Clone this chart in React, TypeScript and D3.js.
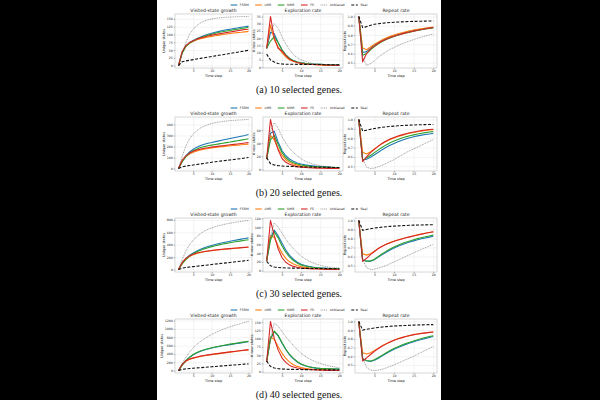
import React, { useEffect, useRef } from "react";
import * as d3 from "d3";

// methods, in drawing order
const methods = ["FSRM", "LMR", "NMR", "FS", "Unbiased", "Real"];
const geneCounts = [10, 20, 30, 40];
const captionLetters = ["a", "b", "c", "d"];
const steps = d3.range(1, 21);

const panelTitles = ["Visited-state growth", "Exploration rate", "Repeat rate"];
const yLabels = ["Unique states", "# new states", "Repeat rate"];
const xTicks = [5, 10, 15, 20];

// y ticks per row (10, 20, 30, 40 genes)
const growthTicks = [
  [0, 25, 50, 75, 100, 125, 150],
  [0, 100, 200, 300, 400],
  [0, 200, 400, 600, 800],
  [0, 200, 400, 600, 800, 1000, 1200],
];
const exploreTicks = [
  [0, 5, 10, 15, 20, 25, 30, 35],
  [0, 20, 40, 60],
  [0, 20, 40, 60, 80, 100, 120],
  [0, 25, 50, 75, 100, 125, 150],
];
const repeatTicks = [0.5, 0.6, 0.7, 0.8, 0.9, 1.0];

// unique states per step: FSRM, LMR, NMR, FS, Unbiased, Real
const growth10 = [
  [0, 42, 63, 74, 81, 87, 92, 97, 101, 104, 107, 110, 113, 115, 117, 119, 121, 123, 125, 127],
  [0, 43, 62, 72, 78, 83, 86, 89, 92, 94, 96, 98, 100, 101.5, 103, 104.5, 106, 107, 108.5, 110],
  [0, 40, 61, 72, 79, 85, 90, 94, 98, 101, 104, 107, 109, 111, 113, 115, 117, 119, 121, 123],
  [0, 45, 64, 74, 80, 85, 89, 92, 95, 98, 100, 102, 104, 106, 108, 110, 112, 114, 116, 117],
  [0, 40, 74, 100, 117, 129, 137, 143, 147, 150, 152, 153.5, 154.5, 155.5, 156, 156.5, 157, 157.5, 158, 158],
  [0, 12, 15, 17, 19, 21, 23, 25, 27, 29, 31, 33, 35, 37, 39, 41, 43, 45, 47, 49],
];
const growth20 = [
  [0, 65, 115, 150, 175, 194, 208, 220, 229, 236, 244, 251, 258, 265, 272, 279, 286, 293, 300, 308],
  [0, 70, 108, 132, 148, 160, 169, 176, 182, 187, 191, 195, 199, 203, 206, 209, 212, 215, 218, 221],
  [0, 62, 108, 140, 162, 178, 190, 199, 206, 212, 218, 224, 230, 235, 240, 246, 252, 258, 264, 270],
  [0, 75, 115, 140, 156, 168, 177, 184, 189, 194, 199, 203, 207, 211, 215, 219, 223, 227, 231, 235],
  [0, 110, 205, 270, 312, 345, 368, 385, 398, 408, 416, 422, 427, 431, 434, 437, 439, 441, 443, 445],
  [0, 15, 22, 27, 32, 37, 42, 47, 52, 57, 62, 66, 70, 74, 78, 82, 86, 90, 95, 100],
];
const growth30 = [
  [0, 100, 175, 230, 268, 300, 327, 350, 370, 388, 404, 419, 432, 444, 456, 467, 478, 489, 500, 510],
  [0, 95, 165, 210, 240, 260, 275, 287, 297, 305, 312, 318, 324, 330, 335, 340, 345, 350, 355, 360],
  [0, 95, 165, 218, 255, 285, 311, 333, 352, 369, 384, 397, 410, 421, 432, 442, 452, 462, 471, 480],
  [0, 115, 180, 220, 247, 265, 279, 290, 299, 307, 314, 320, 326, 332, 337, 342, 347, 352, 357, 362],
  [0, 160, 300, 400, 475, 533, 580, 617, 647, 670, 690, 707, 722, 735, 746, 756, 766, 775, 783, 790],
  [0, 22, 32, 40, 47, 54, 61, 68, 74, 81, 88, 94, 101, 108, 114, 121, 128, 134, 141, 148],
];
const growth40 = [
  [0, 128, 236, 315, 378, 425, 463, 492, 517, 539, 558, 576, 593, 608, 623, 637, 651, 664, 678, 691],
  [0, 140, 222, 268, 298, 321, 340, 356, 370, 383, 395, 407, 419, 431, 442, 453, 464, 475, 486, 497],
  [0, 130, 240, 320, 384, 432, 470, 500, 525, 547, 567, 585, 602, 618, 633, 647, 661, 675, 689, 702],
  [0, 150, 230, 275, 304, 327, 346, 362, 376, 388, 400, 412, 424, 436, 447, 458, 469, 480, 491, 502],
  [0, 170, 320, 440, 545, 630, 700, 760, 815, 865, 910, 950, 987, 1020, 1050, 1078, 1105, 1130, 1155, 1178],
  [0, 28, 40, 48, 56, 63, 70, 77, 84, 91, 98, 105, 112, 119, 126, 133, 140, 147, 154, 161],
];

// new states per step
const explore10 = [
  [13, 24, 23, 17, 12, 8.5, 6, 4.5, 3.5, 3, 2.6, 2.3, 2.1, 2, 1.9, 1.8, 1.7, 1.6, 1.5, 1.5],
  [13, 29, 19, 14, 10, 7, 5, 4, 3.2, 2.6, 2.2, 2, 1.8, 1.7, 1.5, 1.4, 1.3, 1.2, 1.1, 1.1],
  [13, 18, 21, 17, 12, 8.5, 6, 4.5, 3.5, 3, 2.6, 2.3, 2.1, 2, 1.9, 1.8, 1.7, 1.6, 1.5, 1.5],
  [13, 35, 20, 13, 11, 8, 5.5, 4, 3.2, 2.6, 2.2, 2, 1.8, 1.7, 1.6, 1.5, 1.4, 1.3, 1.2, 1.2],
  [13, 24, 30, 27, 21, 16, 12, 8.5, 6.5, 5, 4, 3.2, 2.6, 2.2, 1.9, 1.7, 1.5, 1.3, 1.2, 1.1],
  [9, 5, 3.5, 2.5, 2.2, 2, 2, 2, 1.9, 1.9, 1.9, 1.8, 1.8, 1.8, 1.8, 1.7, 1.7, 1.7, 1.7, 1.7],
];
const explore20 = [
  [16, 55, 58, 42, 29, 21, 16, 12.5, 10, 8.5, 7.3, 6.4, 5.7, 5.1, 4.6, 4.2, 3.8, 3.5, 3.2, 3],
  [16, 52, 45, 32, 22, 15, 11, 8.5, 6.8, 5.5, 4.7, 4, 3.6, 3.2, 2.9, 2.7, 2.5, 2.3, 2.2, 2.1],
  [16, 45, 52, 38, 26, 18, 13.5, 10.5, 8.5, 7, 6, 5.3, 4.7, 4.3, 4, 3.7, 3.4, 3.2, 3, 2.8],
  [16, 76, 48, 30, 17, 11, 8, 6, 4.5, 3.7, 3.2, 2.8, 2.5, 2.3, 2.1, 2, 1.9, 1.8, 1.7, 1.6],
  [16, 58, 71, 63, 50, 40, 32, 26, 21, 16.5, 13, 10.5, 8.5, 7, 6, 5, 4.5, 4, 3.7, 3.5],
  [18, 9, 7, 6, 5.5, 5, 4.8, 4.6, 4.4, 4.2, 4, 3.9, 3.8, 3.7, 3.6, 3.5, 3.4, 3.3, 3.2, 3.1],
];
const explore30 = [
  [22, 75, 93, 80, 63, 47, 35, 26, 19, 14.5, 11.5, 9.5, 8, 7, 6.2, 5.6, 5.1, 4.7, 4.4, 4.1],
  [22, 80, 76, 57, 40, 28, 20, 15, 11.5, 9, 7.3, 6.2, 5.4, 4.8, 4.3, 3.9, 3.6, 3.3, 3.1, 2.9],
  [22, 70, 89, 75, 57, 42, 31, 23, 17, 13, 10.5, 8.7, 7.4, 6.5, 5.8, 5.2, 4.8, 4.4, 4.1, 3.9],
  [22, 115, 80, 50, 30, 19, 13, 9.5, 7.5, 6, 5, 4.3, 3.8, 3.4, 3.1, 2.9, 2.7, 2.5, 2.4, 2.3],
  [22, 80, 109, 100, 86, 72, 60, 50, 41, 33, 27, 22, 18, 14.5, 12, 10, 8.5, 7.5, 6.5, 6],
  [21, 11, 8, 7, 6.5, 6, 5.7, 5.5, 5.3, 5.1, 5, 4.9, 4.8, 4.7, 4.6, 4.5, 4.4, 4.3, 4.2, 4.1],
];
const explore40 = [
  [30, 98, 121, 108, 87, 67, 51, 39, 29.5, 22.5, 18, 14.7, 12.3, 10.8, 9.8, 9.1, 8.6, 8.2, 7.9, 7.6],
  [30, 104, 98, 76, 56, 40, 29, 21, 16, 12.5, 10, 8.4, 7.3, 6.5, 5.9, 5.4, 5, 4.7, 4.4, 4.2],
  [30, 100, 123, 110, 88, 68, 52, 40, 30, 23, 18.5, 15, 12.5, 11, 10, 9.3, 8.8, 8.4, 8.1, 7.8],
  [30, 152, 100, 66, 42, 28, 19, 14, 11, 9, 7.5, 6.5, 5.8, 5.2, 4.7, 4.3, 4, 3.8, 3.6, 3.4],
  [30, 105, 146, 138, 122, 106, 92, 79, 67, 56, 47, 40, 34, 29, 25, 21, 18, 16, 14, 12],
  [32, 16, 11, 9, 8, 7.5, 7, 6.8, 6.6, 6.4, 6.2, 6, 5.9, 5.8, 5.7, 5.6, 5.5, 5.4, 5.3, 5.2],
];

// share of selections that revisit a known state
const repeat10 = [
  [1.0, 0.61, 0.62, 0.655, 0.69, 0.716, 0.74, 0.76, 0.777, 0.792, 0.805, 0.817, 0.828, 0.838, 0.847, 0.855, 0.862, 0.869, 0.875, 0.881],
  [1.0, 0.66, 0.64, 0.67, 0.7, 0.725, 0.748, 0.768, 0.785, 0.8, 0.813, 0.825, 0.835, 0.845, 0.853, 0.861, 0.868, 0.875, 0.881, 0.887],
  [1.0, 0.58, 0.6, 0.64, 0.675, 0.705, 0.73, 0.75, 0.768, 0.784, 0.798, 0.81, 0.821, 0.831, 0.84, 0.849, 0.857, 0.864, 0.871, 0.877],
  [1.0, 0.51, 0.6, 0.65, 0.68, 0.71, 0.735, 0.755, 0.772, 0.787, 0.8, 0.812, 0.823, 0.833, 0.842, 0.851, 0.859, 0.867, 0.874, 0.88],
  [1.0, 0.56, 0.47, 0.49, 0.52, 0.56, 0.59, 0.62, 0.645, 0.665, 0.685, 0.705, 0.72, 0.735, 0.75, 0.765, 0.777, 0.79, 0.8, 0.81],
  [1.0, 0.88, 0.89, 0.905, 0.915, 0.922, 0.927, 0.931, 0.934, 0.937, 0.94, 0.942, 0.944, 0.946, 0.947, 0.948, 0.949, 0.95, 0.951, 0.952],
];
const repeat20 = [
  [1.0, 0.57, 0.575, 0.595, 0.622, 0.65, 0.677, 0.702, 0.724, 0.744, 0.762, 0.778, 0.792, 0.804, 0.815, 0.824, 0.832, 0.839, 0.845, 0.85],
  [1.0, 0.65, 0.63, 0.655, 0.685, 0.715, 0.742, 0.765, 0.785, 0.802, 0.817, 0.83, 0.842, 0.852, 0.861, 0.869, 0.876, 0.882, 0.887, 0.891],
  [1.0, 0.56, 0.59, 0.615, 0.645, 0.675, 0.703, 0.728, 0.75, 0.769, 0.786, 0.801, 0.814, 0.825, 0.835, 0.844, 0.852, 0.859, 0.865, 0.87],
  [1.0, 0.55, 0.6, 0.645, 0.68, 0.715, 0.745, 0.77, 0.79, 0.807, 0.822, 0.835, 0.847, 0.857, 0.866, 0.874, 0.881, 0.887, 0.892, 0.896],
  [1.0, 0.58, 0.49, 0.475, 0.48, 0.495, 0.51, 0.53, 0.55, 0.57, 0.595, 0.62, 0.645, 0.665, 0.685, 0.705, 0.725, 0.745, 0.765, 0.785],
  [1.0, 0.875, 0.885, 0.895, 0.903, 0.91, 0.916, 0.921, 0.925, 0.929, 0.932, 0.935, 0.937, 0.939, 0.941, 0.943, 0.944, 0.945, 0.946, 0.947],
];
const repeat30 = [
  [1.0, 0.56, 0.548, 0.548, 0.565, 0.593, 0.622, 0.648, 0.672, 0.694, 0.713, 0.73, 0.746, 0.76, 0.773, 0.785, 0.796, 0.806, 0.815, 0.824],
  [1.0, 0.63, 0.615, 0.63, 0.66, 0.69, 0.715, 0.736, 0.754, 0.77, 0.784, 0.797, 0.809, 0.82, 0.83, 0.84, 0.849, 0.858, 0.866, 0.873],
  [1.0, 0.56, 0.548, 0.55, 0.57, 0.6, 0.63, 0.657, 0.682, 0.705, 0.725, 0.743, 0.759, 0.773, 0.786, 0.798, 0.809, 0.819, 0.828, 0.837],
  [1.0, 0.545, 0.58, 0.62, 0.655, 0.688, 0.714, 0.735, 0.753, 0.768, 0.782, 0.795, 0.807, 0.818, 0.828, 0.838, 0.848, 0.857, 0.866, 0.875],
  [1.0, 0.57, 0.475, 0.455, 0.46, 0.47, 0.485, 0.5, 0.52, 0.54, 0.56, 0.58, 0.6, 0.62, 0.64, 0.66, 0.68, 0.698, 0.716, 0.734],
  [1.0, 0.89, 0.9, 0.908, 0.915, 0.921, 0.926, 0.93, 0.934, 0.937, 0.94, 0.942, 0.944, 0.946, 0.948, 0.949, 0.95, 0.951, 0.952, 0.953],
];
const repeat40 = [
  [1.0, 0.57, 0.548, 0.54, 0.553, 0.577, 0.604, 0.631, 0.656, 0.68, 0.7, 0.718, 0.735, 0.751, 0.766, 0.78, 0.793, 0.805, 0.816, 0.826],
  [1.0, 0.64, 0.625, 0.64, 0.665, 0.693, 0.72, 0.744, 0.765, 0.784, 0.8, 0.814, 0.826, 0.837, 0.847, 0.855, 0.862, 0.868, 0.873, 0.877],
  [1.0, 0.57, 0.55, 0.545, 0.56, 0.585, 0.612, 0.64, 0.665, 0.69, 0.71, 0.728, 0.745, 0.761, 0.776, 0.79, 0.803, 0.815, 0.826, 0.836],
  [1.0, 0.545, 0.58, 0.62, 0.655, 0.688, 0.717, 0.742, 0.764, 0.783, 0.8, 0.814, 0.827, 0.838, 0.848, 0.856, 0.863, 0.869, 0.874, 0.878],
  [1.0, 0.58, 0.47, 0.44, 0.435, 0.44, 0.45, 0.465, 0.482, 0.5, 0.52, 0.54, 0.56, 0.58, 0.6, 0.622, 0.645, 0.668, 0.69, 0.712],
  [1.0, 0.9, 0.91, 0.918, 0.925, 0.931, 0.936, 0.94, 0.944, 0.947, 0.95, 0.952, 0.954, 0.956, 0.958, 0.96, 0.961, 0.962, 0.963, 0.964],
];

const growthData = [growth10, growth20, growth30, growth40];
const exploreData = [explore10, explore20, explore30, explore40];
const repeatData = [repeat10, repeat20, repeat30, repeat40];

// line style for each method
const lineStyles = [
  { color: "#1f77b4", width: 1.1, dash: null },
  { color: "#ff7f0e", width: 1.1, dash: null },
  { color: "#2ca02c", width: 1.1, dash: null },
  { color: "#d62728", width: 1.1, dash: null },
  { color: "#4d4d4d", width: 0.55, dash: "1,0.8" },
  { color: "#111111", width: 1.1, dash: "3,1.6" },
];

const W = 600;
const H = 400;
const sheet = { left: 157, right: 441 };
const rowTops = [0, 103, 204, 305];
const panelX = [
  [175, 252],
  [263, 343],
  [355, 437],
];
const frameTop = 14;
const frameBottom = 68;
const font = "DejaVu Sans";

const App = () => {
  const svgRef = useRef<SVGSVGElement | null>(null);

  useEffect(() => {
    const svg = d3.select(svgRef.current);
    svg.selectAll("*").remove();

    svg.append("rect").attr("width", W).attr("height", H).attr("fill", "#000");
    svg
      .append("rect")
      .attr("x", sheet.left)
      .attr("width", sheet.right - sheet.left)
      .attr("height", H)
      .attr("fill", "#fff");

    const centerX = (sheet.left + sheet.right) / 2;

    geneCounts.forEach((genes, r) => {
      const row = svg.append("g").attr("transform", `translate(0,${rowTops[r]})`);

      //// Legend
      const legend = row.append("g");
      let cursor = 0;
      methods.forEach((name, m) => {
        const st = lineStyles[m];
        legend
          .append("line")
          .attr("x1", cursor)
          .attr("x2", cursor + 6.6)
          .attr("y1", 5)
          .attr("y2", 5)
          .attr("stroke", st.color)
          .attr("stroke-width", st.width)
          .attr("stroke-dasharray", st.dash);
        const t = legend
          .append("text")
          .attr("x", cursor + 9.2)
          .attr("y", 6.1)
          .attr("font-family", font)
          .attr("font-size", 3.2)
          .attr("fill", "#262626")
          .text(name);
        cursor += 9.2 + (t.node() as SVGTextElement).getComputedTextLength() + 6.6;
      });
      const legendWidth = cursor - 6.6;
      legend.attr("transform", `translate(${centerX - legendWidth / 2},0)`);

      //// Panels
      const panels = [
        { data: growthData[r], ticks: growthTicks[r], fmt: d3.format("d") },
        { data: exploreData[r], ticks: exploreTicks[r], fmt: d3.format("d") },
        { data: repeatData[r], ticks: repeatTicks, fmt: d3.format(".1f") },
      ];

      panels.forEach((panel, p) => {
        const [x0, x1] = panelX[p];
        const g = row.append("g");
        const h = frameBottom - frameTop;

        const xScale = d3.scaleLinear().domain([0.05, 20.95]).range([x0, x1]);
        const [lo, hi] = d3.extent(panel.data.flat()) as [number, number];
        const pad = (hi - lo) * 0.05;
        const yScale = d3
          .scaleLinear()
          .domain([lo - pad, hi + pad])
          .range([frameBottom, frameTop]);

        // Grid
        g.append("g")
          .attr("transform", `translate(0,${frameBottom})`)
          .call(d3.axisBottom(xScale).tickValues(xTicks).tickSize(-h).tickFormat(() => ""))
          .call((a) => a.select(".domain").remove())
          .selectAll("line")
          .attr("stroke", "#e3e3e3")
          .attr("stroke-width", 0.4);
        g.append("g")
          .attr("transform", `translate(${x0},0)`)
          .call(d3.axisLeft(yScale).tickValues(panel.ticks).tickSize(-(x1 - x0)).tickFormat(() => ""))
          .call((a) => a.select(".domain").remove())
          .selectAll("line")
          .attr("stroke", "#e3e3e3")
          .attr("stroke-width", 0.4);

        // Lines
        const line = d3
          .line<number>()
          .x((d, i) => xScale(steps[i]))
          .y((d) => yScale(d));
        panel.data.forEach((series, m) => {
          const st = lineStyles[m];
          g.append("path")
            .datum(series)
            .attr("fill", "none")
            .attr("stroke", st.color)
            .attr("stroke-width", st.width)
            .attr("stroke-dasharray", st.dash)
            .attr("stroke-linejoin", "round")
            .attr("d", line);
        });

        // Frame
        g.append("rect")
          .attr("x", x0)
          .attr("y", frameTop)
          .attr("width", x1 - x0)
          .attr("height", h)
          .attr("fill", "none")
          .attr("stroke", "#b0b0b0")
          .attr("stroke-width", 0.5);

        // Axes
        const xAxisG = g
          .append("g")
          .attr("transform", `translate(0,${frameBottom})`)
          .call(d3.axisBottom(xScale).tickValues(xTicks).tickSize(1.3).tickPadding(0.8));
        const yAxisG = g
          .append("g")
          .attr("transform", `translate(${x0},0)`)
          .call(
            d3
              .axisLeft(yScale)
              .tickValues(panel.ticks)
              .tickSize(1.3)
              .tickPadding(0.8)
              .tickFormat((d) => panel.fmt(d as number))
          );
        [xAxisG, yAxisG].forEach((a) => {
          a.select(".domain").remove();
          a.attr("font-family", font).attr("font-size", 3.2);
          a.selectAll("line").attr("stroke", "#444").attr("stroke-width", 0.4);
          a.selectAll("text").attr("fill", "#262626");
        });

        // Labels
        g.append("text")
          .attr("x", (x0 + x1) / 2)
          .attr("y", frameTop - 1.6)
          .attr("text-anchor", "middle")
          .attr("font-family", font)
          .attr("font-size", 4.6)
          .attr("fill", "#1a1a1a")
          .text(panelTitles[p]);

        g.append("text")
          .attr("x", (x0 + x1) / 2)
          .attr("y", frameBottom + 9.3)
          .attr("text-anchor", "middle")
          .attr("font-family", font)
          .attr("font-size", 3.5)
          .attr("fill", "#1a1a1a")
          .text("Time step");

        const tickW = (yAxisG.node() as SVGGElement).getBBox().width;
        const ly = (frameTop + frameBottom) / 2;
        const lx = x0 - tickW - 2.2;
        g.append("text")
          .attr("transform", `translate(${lx},${ly}) rotate(-90)`)
          .attr("text-anchor", "middle")
          .attr("font-family", font)
          .attr("font-size", 3.5)
          .attr("fill", "#1a1a1a")
          .text(yLabels[p]);
      });

      //// Caption
      row
        .append("text")
        .attr("x", centerX)
        .attr("y", 92.5)
        .attr("text-anchor", "middle")
        .attr("font-family", "Liberation Serif")
        .attr("font-size", 10)
        .attr("fill", "#111")
        .text(`(${captionLetters[r]}) ${genes} selected genes.`);
    });
  }, []);

  return (
    <svg
      ref={svgRef}
      width={W}
      height={H}
      style={{ position: "fixed", left: 0, top: 0, display: "block" }}
    ></svg>
  );
};

export default App;
